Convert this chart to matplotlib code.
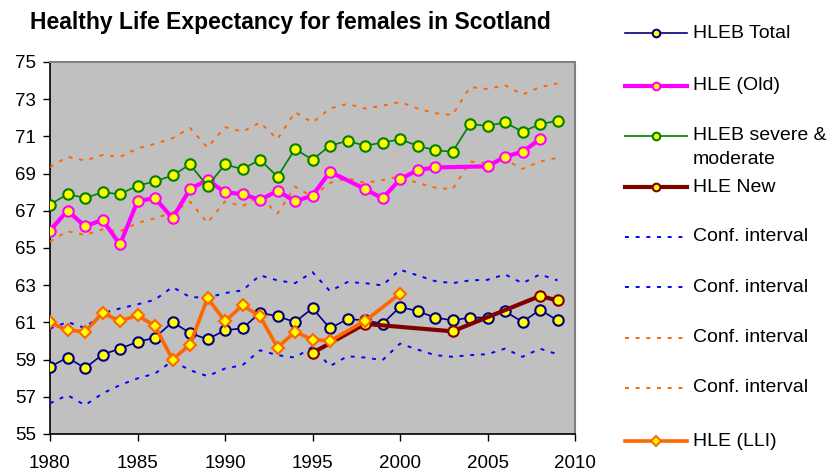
import matplotlib.pyplot as plt
from matplotlib.lines import Line2D

plt.rcParams['font.family'] = ['Liberation Sans', 'DejaVu Sans']

# ---------------------------------------------------
# DATA
# ---------------------------------------------------

years = list(range(1980, 2010))

hleb_total = [58.61, 59.11, 58.54, 59.27, 59.59, 59.95, 60.18, 61.02, 60.43, 60.09,
              60.58, 60.68, 61.52, 61.33, 61.02, 61.76, 60.68, 61.18, 61.11, 60.93,
              61.83, 61.61, 61.26, 61.11, 61.26, 61.26, 61.60, 61.02, 61.68, 61.11]

hle_old_years = list(range(1980, 1997)) + list(range(1998, 2003)) + list(range(2005, 2009))
hle_old = [65.94, 67.01, 66.17, 66.51, 65.19, 67.51, 67.69, 66.60, 68.17, 68.66,
           67.99, 67.90, 67.58, 68.08, 67.51, 67.82, 69.10,
           68.17, 67.67, 68.69, 69.19, 69.33,
           69.39, 69.91, 70.17, 70.85]

hleb_severe = [67.33, 67.90, 67.69, 67.99, 67.90, 68.35, 68.58, 68.90, 69.49, 68.33,
               69.49, 69.24, 69.75, 68.83, 70.32, 69.75, 70.50, 70.76, 70.50, 70.67,
               70.84, 70.50, 70.26, 70.17, 71.66, 71.57, 71.75, 71.25, 71.66, 71.84]

hle_new_years = [1995, 1998, 2003, 2008, 2009]
hle_new = [59.36, 60.92, 60.52, 62.42, 62.18]

ci_blue_upper = [60.67, 61.02, 60.70, 61.50, 61.75, 61.97, 62.22, 62.90, 62.36, 62.33,
                 62.58, 62.72, 63.53, 63.26, 63.11, 63.70, 62.68, 63.17, 63.11, 62.99,
                 63.83, 63.53, 63.22, 63.11, 63.26, 63.29, 63.58, 63.11, 63.58, 63.26]
ci_blue_lower = [56.65, 57.09, 56.55, 57.18, 57.63, 57.99, 58.25, 58.93, 58.43, 58.11,
                 58.52, 58.70, 59.50, 59.24, 59.11, 59.68, 58.65, 59.18, 59.11, 58.97,
                 59.86, 59.54, 59.24, 59.15, 59.24, 59.29, 59.59, 59.15, 59.59, 59.29]

ci_orange_upper = [69.35, 69.90, 69.70, 70.00, 69.90, 70.35, 70.60, 70.90, 71.45, 70.40,
                   71.50, 71.25, 71.75, 70.85, 72.30, 71.75, 72.50, 72.75, 72.50, 72.65,
                   72.85, 72.50, 72.25, 72.15, 73.65, 73.55, 73.75, 73.25, 73.65, 73.85]
ci_orange_lower = [65.35, 65.90, 65.70, 66.00, 65.90, 66.35, 66.60, 66.90, 67.50, 66.35,
                   67.50, 67.25, 67.75, 66.85, 68.30, 67.75, 68.50, 68.75, 68.50, 68.65,
                   68.85, 68.50, 68.25, 68.15, 69.65, 69.55, 69.75, 69.25, 69.65, 69.85]

hle_lli_years = list(range(1980, 1997)) + [1998, 2000]
hle_lli = [61.00, 60.58, 60.50, 61.50, 61.08, 61.38, 60.81, 59.00, 59.81, 62.31,
           61.06, 61.92, 61.33, 59.65, 60.49, 60.08, 60.00, 61.08, 62.54]

# ---------------------------------------------------
# SERIES STYLES (legend order)
# ---------------------------------------------------

circle = dict(marker='o', markersize=7.5, markerfacecolor='#FFFF00', markeredgewidth=1.5)
dots = dict(linestyle=(0, (2.0, 3.5)), linewidth=1.4)

series = [
    ("HLEB Total", years, hleb_total,
     dict(color='#000080', linewidth=1.2, markeredgecolor='#000080', zorder=5, **circle)),
    ("HLE (Old)", hle_old_years, hle_old,
     dict(color='#FF00FF', linewidth=3.0, markeredgecolor='#FF00FF', zorder=5, **circle)),
    ("HLEB severe &\nmoderate", years, hleb_severe,
     dict(color='#008000', linewidth=1.2, markeredgecolor='#008000', zorder=5, **circle)),
    ("HLE New", hle_new_years, hle_new,
     dict(color='#800000', linewidth=3.0, markeredgecolor='#800000', zorder=5, **circle)),
    ("Conf. interval", years, ci_blue_upper, dict(color='#0000FF', zorder=3, **dots)),
    ("Conf. interval", years, ci_blue_lower, dict(color='#0000FF', zorder=3, **dots)),
    ("Conf. interval", years, ci_orange_upper, dict(color='#FF6600', zorder=3, **dots)),
    ("Conf. interval", years, ci_orange_lower, dict(color='#FF6600', zorder=3, **dots)),
    ("HLE (LLI)", hle_lli_years, hle_lli,
     dict(color='#FF6600', linewidth=2.6, marker='D', markersize=6.5, markerfacecolor='#FFFF00',
          markeredgecolor='#FF6600', markeredgewidth=1.5, zorder=6)),
]

# ---------------------------------------------------
# FIGURE
# ---------------------------------------------------

W, H = 830, 475
fig = plt.figure(figsize=(W / 100, H / 100), dpi=100)
ax = fig.add_axes([50 / W, 41 / H, 525 / W, 372 / H])
ax.set_facecolor('#C0C0C0')

for label, xs, ys, style in series:
    ax.plot(xs, ys, **style)

ax.set_xlim(1980, 2010)
ax.set_ylim(55, 75)
ax.set_xticks(range(1980, 2011, 5))
ax.set_yticks(range(55, 76, 2))
ax.tick_params(axis='both', labelsize=13.5, direction='out', length=5, width=1)
ax.tick_params(axis='x', pad=10)
ax.tick_params(axis='y', pad=5)

for side in ['top', 'right']:
    ax.spines[side].set_color('#808080')
    ax.spines[side].set_linewidth(1.5)
for side in ['left', 'bottom']:
    ax.spines[side].set_color('black')
    ax.spines[side].set_linewidth(1.2)

fig.text(290 / W, 1 - 22 / H, "Healthy Life Expectancy for females in Scotland",
         ha='center', va='center', fontsize=16.5, fontweight='bold')

# legend drawn beside the plot, one row per series
legend_rows = [33, 86, 136, 187, 237, 287, 338, 388, 441]
for (label, xs, ys, style), row in zip(series, legend_rows):
    y = 1 - row / H
    hstyle = {k: v for k, v in style.items() if k != 'zorder'}
    if 'markersize' in hstyle:
        hstyle['markersize'] = 5.5
    handle = Line2D([625 / W, 656 / W, 687 / W], [y, y, y], transform=fig.transFigure,
                    markevery=[1], **hstyle)
    fig.add_artist(handle)
    first, *rest = label.split("\n")
    fig.text(693 / W, y, first, ha='left', va='center', fontsize=14)
    for n, extra in enumerate(rest, start=1):
        fig.text(693 / W, y - n * 24 / H, extra, ha='left', va='center', fontsize=14)

plt.savefig("out.png", dpi=100)
plt.close(fig)
